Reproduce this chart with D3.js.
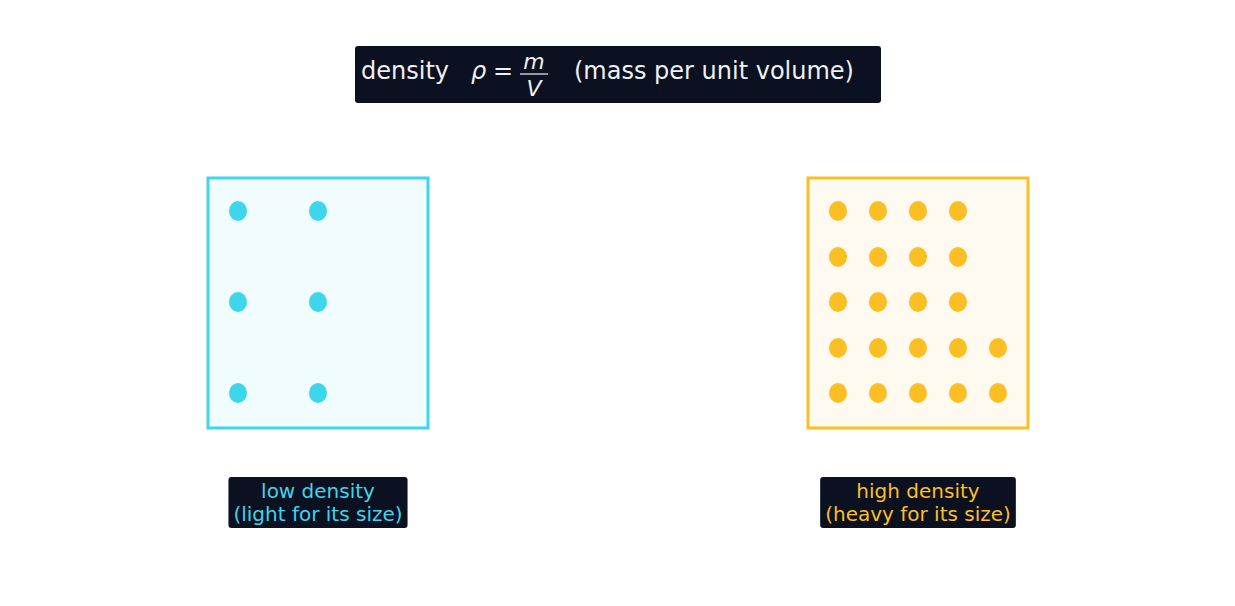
<!DOCTYPE html>
<html><head><meta charset="utf-8">
<script src="https://cdn.jsdelivr.net/npm/d3@7"></script>
<style>body{margin:0;background:#fff}svg{display:block;font-family:"DejaVu Sans",sans-serif}</style>
</head><body><svg id="c" width="1235" height="606"></svg>
<script>
// boxes in data units (x 0..12.35, y 0..6.06 top-down)
const boxes = [
  {name: "low",  x0: 2.08, x1: 4.28, color: "#3dd6ed", fill: "#f0fcfe", label: ["low density", "(light for its size)"]},
  {name: "high", x0: 8.08, x1: 10.28, color: "#fbbf24", fill: "#fffaef", label: ["high density", "(heavy for its size)"]}
];
const boxY = [1.78, 4.28];
const lowCols = [2.38, 3.18];
const lowRows = [2.11, 3.02, 3.93];
const highCols = [8.38, 8.78, 9.18, 9.58, 9.98];
const highRows = [2.11, 2.57, 3.02, 3.48, 3.93];
const highRowCounts = [4, 4, 4, 5, 5];

const x = d3.scaleLinear().domain([0, 12.35]).range([0, 1235]);
const y = d3.scaleLinear().domain([0, 6.06]).range([0, 606]);
const svg = d3.select("#c");

const dots = [];
lowRows.forEach(r => lowCols.forEach(c => dots.push({x: c, y: r, color: boxes[0].color})));
highRows.forEach((r, i) => highCols.slice(0, highRowCounts[i]).forEach(c => dots.push({x: c, y: r, color: boxes[1].color})));

svg.selectAll("rect.box").data(boxes).join("rect")
  .attr("x", d => x(d.x0)).attr("y", y(boxY[0]))
  .attr("width", d => x(d.x1) - x(d.x0)).attr("height", y(boxY[1]) - y(boxY[0]))
  .attr("fill", d => d.fill).attr("stroke", d => d.color).attr("stroke-width", 3);

svg.selectAll("ellipse").data(dots).join("ellipse")
  .attr("cx", d => x(d.x)).attr("cy", d => y(d.y)).attr("rx", 9).attr("ry", 10)
  .attr("fill", d => d.color);

// labels
boxes.forEach(b => {
  const cx = x((b.x0 + b.x1) / 2);
  const g = svg.append("g");
  const t = g.append("text").attr("text-anchor", "middle").attr("font-size", 20).attr("fill", b.color);
  b.label.forEach((s, i) => t.append("tspan").attr("x", cx).attr("y", 498 + i * 23).text(s));
  const bb = t.node().getBBox();
  g.insert("rect", "text").attr("x", bb.x - 5).attr("y", 477).attr("width", bb.width + 10)
    .attr("height", 51).attr("rx", 3).attr("fill", "#0b1120");
});

// title
const tg = svg.append("g");
tg.append("rect").attr("x", 355).attr("y", 46).attr("width", 526).attr("height", 57).attr("rx", 3).attr("fill", "#0b1120");
const tc = "#eef0f4";
tg.append("text").attr("x", 361).attr("y", 79).attr("font-size", 24).attr("fill", tc).text("density");
tg.append("text").attr("x", 471).attr("y", 79).attr("font-size", 24).attr("fill", tc).attr("font-style", "italic").text("ρ");
tg.append("text").attr("x", 493).attr("y", 79).attr("font-size", 24).attr("fill", tc).text("=");
tg.append("text").attr("x", 534).attr("y", 69).attr("font-size", 22).attr("fill", tc).attr("font-style", "italic").attr("text-anchor", "middle").text("m");
tg.append("line").attr("x1", 520).attr("x2", 548).attr("y1", 74).attr("y2", 74).attr("stroke", tc).attr("stroke-width", 1.2);
tg.append("text").attr("x", 534).attr("y", 96).attr("font-size", 22).attr("fill", tc).attr("font-style", "italic").attr("text-anchor", "middle").text("V");
tg.append("text").attr("x", 574).attr("y", 79).attr("font-size", 24).attr("fill", tc).text("(mass per unit volume)");
</script></body></html>
